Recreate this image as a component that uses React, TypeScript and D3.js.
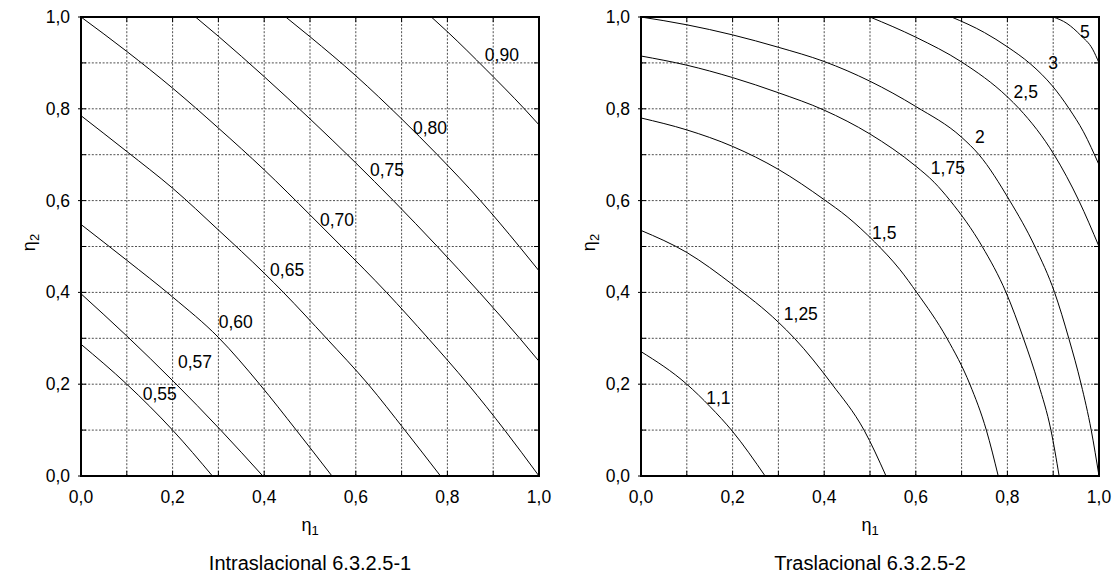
import React from 'react';
import * as d3 from 'd3';

type P = [number, number];

// ---- axis data ----
const axisTicks = [0, 0.2, 0.4, 0.6, 0.8, 1.0];
const axisTickLabels = ['0,0', '0,2', '0,4', '0,6', '0,8', '1,0'];
const gridValues = [0.1, 0.2, 0.3, 0.4, 0.5, 0.6, 0.7, 0.8, 0.9];
const minorTicks = [0.1, 0.2, 0.3, 0.4, 0.5, 0.6, 0.7, 0.8, 0.9];

// ---- left panel: Intraslacional ----
const intra055: P[] = [[0, 0.287], [0.1, 0.2], [0.2, 0.1], [0.287, 0]];
const intra057: P[] = [[0, 0.397], [0.1, 0.305], [0.305, 0.1], [0.397, 0]];
const intra060: P[] = [[0, 0.548], [0.1, 0.47], [0.2, 0.39], [0.3, 0.302], [0.39, 0.2], [0.47, 0.1], [0.548, 0]];
const intra065: P[] = [[0, 0.785], [0.1, 0.707], [0.2, 0.627], [0.3, 0.536], [0.4, 0.442], [0.442, 0.4], [0.536, 0.3], [0.627, 0.2], [0.707, 0.1], [0.785, 0]];
const intra070: P[] = [[0, 1], [0.1, 0.925], [0.2, 0.845], [0.3, 0.758], [0.4, 0.667], [0.5, 0.569], [0.569, 0.5], [0.667, 0.4], [0.758, 0.3], [0.845, 0.2], [0.925, 0.1], [1, 0]];
const intra075: P[] = [[0.25, 1], [0.3, 0.958], [0.4, 0.87], [0.5, 0.778], [0.6, 0.682], [0.682, 0.6], [0.778, 0.5], [0.87, 0.4], [0.958, 0.3], [1, 0.25]];
const intra080: P[] = [[0.447, 1], [0.5, 0.957], [0.6, 0.872], [0.7, 0.778], [0.778, 0.7], [0.872, 0.6], [0.957, 0.5], [1, 0.447]];
const intra090: P[] = [[0.765, 1], [0.8, 0.968], [0.885, 0.885], [0.968, 0.8], [1, 0.765]];
const intraCurves = [intra055, intra057, intra060, intra065, intra070, intra075, intra080, intra090];
const intraLabels = ['0,55', '0,57', '0,60', '0,65', '0,70', '0,75', '0,80', '0,90'];
const intraLabelAt: P[] = [[0.172, 0.179], [0.249, 0.248], [0.338, 0.335], [0.45, 0.449], [0.559, 0.558], [0.668, 0.667], [0.762, 0.758], [0.919, 0.917]];

// ---- right panel: Traslacional ----
const tras110: P[] = [[0, 0.271], [0.1, 0.2], [0.151, 0.151], [0.2, 0.097], [0.271, 0]];
const tras125: P[] = [[0, 0.535], [0.1, 0.487], [0.2, 0.417], [0.3, 0.335], [0.335, 0.3], [0.417, 0.2], [0.487, 0.1], [0.535, 0]];
const tras150: P[] = [[0, 0.78], [0.1, 0.754], [0.2, 0.718], [0.3, 0.668], [0.4, 0.602], [0.45, 0.565], [0.51, 0.51], [0.565, 0.45], [0.602, 0.4], [0.668, 0.3], [0.718, 0.2], [0.754, 0.1], [0.78, 0]];
const tras175: P[] = [[0, 0.915], [0.1, 0.895], [0.2, 0.868], [0.3, 0.835], [0.4, 0.797], [0.5, 0.745], [0.6, 0.675], [0.64, 0.64], [0.675, 0.6], [0.745, 0.5], [0.797, 0.4], [0.835, 0.3], [0.868, 0.2], [0.895, 0.1], [0.913, 0]];
const tras200: P[] = [[0, 1], [0.1, 0.983], [0.2, 0.961], [0.3, 0.934], [0.4, 0.903], [0.5, 0.86], [0.6, 0.805], [0.7, 0.738], [0.738, 0.7], [0.805, 0.6], [0.86, 0.5], [0.903, 0.4], [0.934, 0.3], [0.961, 0.2], [0.983, 0.1], [1, 0]];
const tras250: P[] = [[0.5, 1], [0.6, 0.956], [0.7, 0.902], [0.8, 0.826], [0.826, 0.8], [0.902, 0.7], [0.956, 0.6], [1, 0.5]];
const tras300: P[] = [[0.678, 1], [0.75, 0.966], [0.8, 0.935], [0.85, 0.898], [0.875, 0.875], [0.898, 0.85], [0.935, 0.8], [0.966, 0.75], [1, 0.678]];
const tras500: P[] = [[0.9, 1], [0.93, 0.986], [0.96, 0.96], [0.986, 0.93], [1, 0.9]];
const trasCurves = [tras110, tras125, tras150, tras175, tras200, tras250, tras300, tras500];
const trasLabels = ['1,1', '1,25', '1,5', '1,75', '2', '2,5', '3', '5'];
const trasLabelAt: P[] = [[0.169, 0.171], [0.349, 0.353], [0.531, 0.529], [0.67, 0.67], [0.74, 0.739], [0.84, 0.837], [0.9, 0.899], [0.969, 0.968]];

const FONT = "'Liberation Sans', Arial, sans-serif";
const TICK_FS = 17.5;

type PanelProps = {
  left: number;
  curves: P[][];
  labels: string[];
  labelAt: P[];
  caption: string;
};

function Panel({ left, curves, labels, labelAt, caption }: PanelProps) {
  const top = 17;
  const w = 458;
  const h = 459;
  const x = d3.scaleLinear().domain([0, 1]).range([left, left + w]);
  const y = d3.scaleLinear().domain([0, 1]).range([top + h, top]);
  const line = d3.line<P>().x(d => x(d[0])).y(d => y(d[1])).curve(d3.curveMonotoneX);
  const cx = left + w / 2;
  return (
    <g>
      {gridValues.map(v => (
        <line key={'gx' + v} x1={x(v)} x2={x(v)} y1={y(0)} y2={y(1)} stroke="#222" strokeWidth={0.8} strokeDasharray="2,1.6" />
      ))}
      {gridValues.map(v => (
        <line key={'gy' + v} x1={x(0)} x2={x(1)} y1={y(v)} y2={y(v)} stroke="#222" strokeWidth={0.8} strokeDasharray="2,1.6" />
      ))}
      {minorTicks.map(v => (
        <g key={'t' + v}>
          <line x1={x(v)} x2={x(v)} y1={y(0)} y2={y(0) - 5} stroke="#000" strokeWidth={1} />
          <line x1={x(v)} x2={x(v)} y1={y(1)} y2={y(1) + 5} stroke="#000" strokeWidth={1} />
          <line x1={x(0)} x2={x(0) + 5} y1={y(v)} y2={y(v)} stroke="#000" strokeWidth={1} />
          <line x1={x(1)} x2={x(1) - 5} y1={y(v)} y2={y(v)} stroke="#000" strokeWidth={1} />
        </g>
      ))}
      {axisTicks.map(v => (
        <line key={'ot' + v} x1={x(0) - 3} x2={x(0)} y1={y(v)} y2={y(v)} stroke="#000" strokeWidth={1} />
      ))}
      {curves.map((c, i) => (
        <path key={'c' + i} d={line(c) || ''} fill="none" stroke="#000" strokeWidth={1} />
      ))}
      {labels.map((t, i) => (
        <text key={'l' + i} x={x(labelAt[i][0])} y={y(labelAt[i][1])} textAnchor="middle" dominantBaseline="central" fontSize={TICK_FS} fontFamily={FONT} fill="#000">{t}</text>
      ))}
      <rect x={x(0)} y={y(1)} width={w} height={h} fill="none" stroke="#000" strokeWidth={2} />
      {axisTicks.map((v, i) => (
        <text key={'xl' + v} x={x(v)} y={y(0) + 21} textAnchor="middle" dominantBaseline="central" fontSize={TICK_FS} fontFamily={FONT} fill="#000">{axisTickLabels[i]}</text>
      ))}
      {axisTicks.map((v, i) => (
        <text key={'yl' + v} x={x(0) - 11} y={y(v)} textAnchor="end" dominantBaseline="central" fontSize={TICK_FS} fontFamily={FONT} fill="#000">{axisTickLabels[i]}</text>
      ))}
      <text x={cx} y={y(0) + 49} textAnchor="middle" dominantBaseline="central" fontSize={18} fontFamily={FONT} fill="#000">
        η<tspan fontSize={13} dy={5}>1</tspan>
      </text>
      <text transform={`translate(${left - 52},${top + h / 2 - 4}) rotate(-90)`} textAnchor="middle" dominantBaseline="central" fontSize={18} fontFamily={FONT} fill="#000">
        η<tspan fontSize={13} dy={5}>2</tspan>
      </text>
      <text x={cx} y={y(0) + 87} textAnchor="middle" dominantBaseline="central" fontSize={20} fontFamily={FONT} fill="#000">{caption}</text>
    </g>
  );
}

export default function App() {
  return (
    <svg width={1119} height={573} style={{ position: 'absolute', left: 0, top: 0, background: '#fff' }}>
      <rect x={0} y={0} width={1119} height={573} fill="#fff" />
      <Panel left={81} curves={intraCurves} labels={intraLabels} labelAt={intraLabelAt} caption="Intraslacional 6.3.2.5-1" />
      <Panel left={641} curves={trasCurves} labels={trasLabels} labelAt={trasLabelAt} caption="Traslacional 6.3.2.5-2" />
    </svg>
  );
}
